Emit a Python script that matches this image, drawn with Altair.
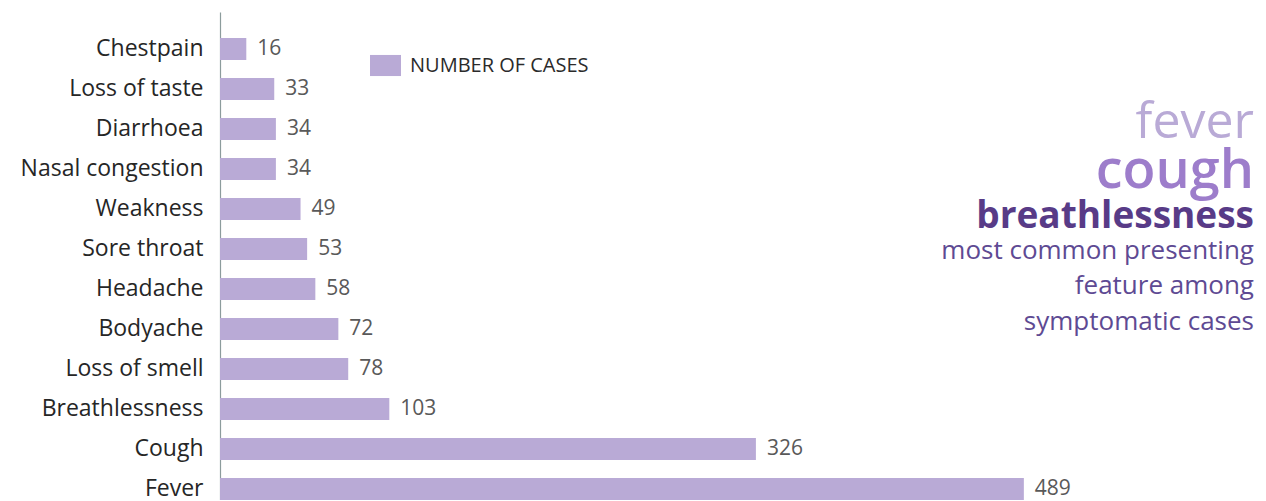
import altair as alt
import pandas as pd

symptoms = ["Chestpain", "Loss of taste", "Diarrhoea", "Nasal congestion", "Weakness",
            "Sore throat", "Headache", "Bodyache", "Loss of smell", "Breathlessness",
            "Cough", "Fever"]
cases = [16, 33, 34, 34, 49, 53, 58, 72, 78, 103, 326, 489]
series_name = "NUMBER OF CASES"

headline_words = ["fever", "cough", "breathlessness"]
subtitle_lines = ["most common presenting", "feature among", "symptomatic cases"]

FONT = "Open Sans"
BAR = "#b9aad6"

df = pd.DataFrame({"symptom": symptoms, "cases": cases, "series": series_name})

y_enc = alt.Y("symptom:N", sort=symptoms,
              scale=alt.Scale(paddingInner=0.45, paddingOuter=0.325, align=1),
              axis=alt.Axis(title=None, ticks=False, labelFontSize=23, labelPadding=17,
                            labelLimit=400, labelColor="#262626", labelFont=FONT,
                            domainColor="#8c9c9c", domainWidth=1.2, grid=False))
x_enc = alt.X("cases:Q", scale=alt.Scale(domain=[0, 629], nice=False, zero=True), axis=None)

bars = alt.Chart(df).mark_bar().encode(
    y=y_enc, x=x_enc,
    color=alt.Color("series:N", scale=alt.Scale(range=[BAR]),
                    legend=alt.Legend(title=None, orient="none", legendX=150, legendY=38,
                                      symbolType="M-1,-0.68H1V0.68H-1Z", symbolSize=961,
                                      symbolStrokeWidth=0, labelFontSize=20, labelFont=FONT,
                                      labelLimit=500, labelColor="#2b2b2b", labelOffset=9,
                                      padding=0))
)

labels = alt.Chart(df).mark_text(align="left", baseline="middle", dx=11, fontSize=21,
                                 font=FONT, color="#595959").encode(
    y=alt.Y("symptom:N", sort=symptoms), x="cases:Q", text="cases:Q")


def line(txt, y, size, color, weight="normal"):
    return alt.Chart(pd.DataFrame({"t": [txt]})).mark_text(
        align="right", baseline="alphabetic", fontSize=size, font=FONT,
        fontWeight=weight, color=color).encode(
        x=alt.value(1034), y=alt.value(y), text="t:N")


notes = [
    line(headline_words[0], 126, 50, "#b9aad6", 500),
    line(headline_words[1], 176, 54, "#9d7dcb", 600),
    line(headline_words[2], 216, 37, "#583b87", "bold"),
    line(subtitle_lines[0], 247, 26, "#5e4a93"),
    line(subtitle_lines[1], 282, 26, "#5e4a93"),
    line(subtitle_lines[2], 318, 26, "#5e4a93"),
]

chart = alt.layer(bars, labels, *notes).properties(
    width=1034, height=488,
    autosize=alt.AutoSizeParams(type="none"),
    padding={"left": 212, "top": 4, "right": 0, "bottom": 0},
).configure(font=FONT).configure_view(stroke=None, strokeWidth=0)

chart.save("out.html", embed_options={"renderer": "svg", "actions": False})
